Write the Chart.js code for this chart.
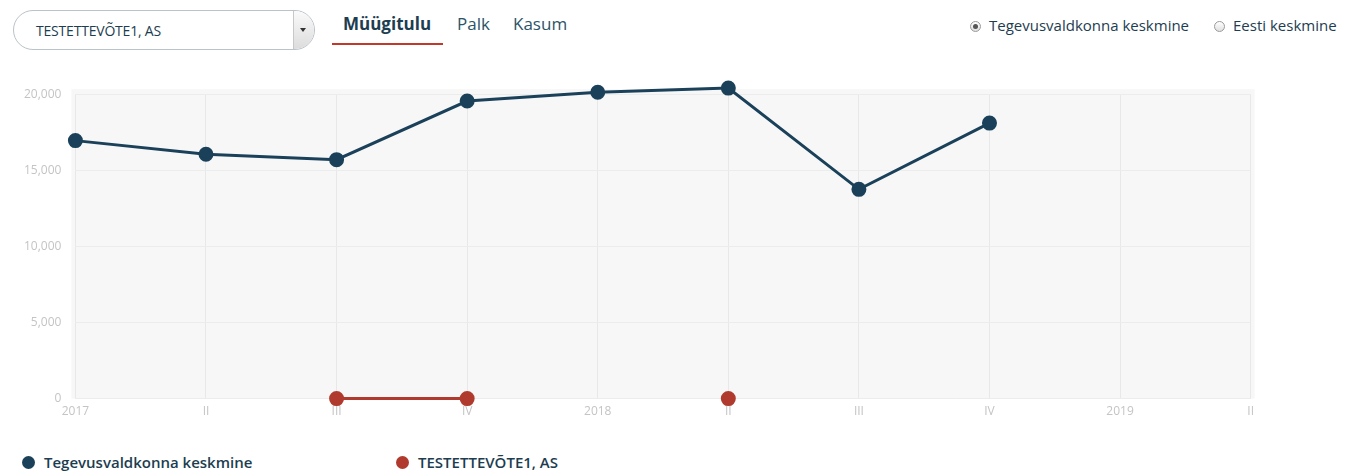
<!DOCTYPE html>
<html lang="et">
<head>
<meta charset="utf-8">
<title>Müügitulu</title>
<script src="https://cdn.jsdelivr.net/npm/chart.js@4.4.1/dist/chart.umd.min.js"></script>
<style>
  html, body { margin: 0; padding: 0; background: #fff; }
  body { width: 1346px; height: 472px; position: relative; overflow: hidden; font-family: "Open Sans", sans-serif; }
  .select {
    position: absolute; left: 13px; top: 10px; width: 302px; height: 40px;
    border: 1px solid #b9c3c9; border-radius: 20px; box-sizing: border-box; overflow: hidden;
  }
  .select span { position: absolute; left: 22px; top: 10px; font-size: 14px; color: #1d3d50; letter-spacing: -0.2px; }
  .select .arrow {
    position: absolute; right: 0; top: 0; width: 20px; height: 38px;
    border-left: 1px solid #c8c8c8; background: linear-gradient(#fafafa, #dcdcdc);
  }
  .select .arrow:after {
    content: ""; position: absolute; left: 6px; top: 17px;
    border-left: 3px solid transparent; border-right: 3px solid transparent; border-top: 4px solid #333;
  }
  .tabs { position: absolute; left: 332px; top: 12px; font-size: 17px; color: #2b5468; }
  .tabs a { position: absolute; white-space: nowrap; }
  .tabs .active { font-weight: 700; color: #1d3d50; left: 11px; }
  .tabs .line { position: absolute; left: 0; top: 31px; width: 111px; height: 2px; background: #c0392b; }
  .radios { position: absolute; top: 15px; font-size: 15px; color: #1d3d50; }
  .radio { position: absolute; white-space: nowrap; }
  .radio i {
    position: absolute; left: 0; top: 6px; width: 9px; height: 9px; border-radius: 50%;
    border: 1px solid #9a9a9a; background: linear-gradient(#fff, #e0e0e0);
  }
  .radio i.on:after { content: ""; position: absolute; left: 2px; top: 2px; width: 5px; height: 5px; border-radius: 50%; background: #555; }
  .radio span { position: absolute; left: 19px; top: 0; }
  #wrap { position: absolute; left: 0; top: 73px; width: 1260px; height: 352px; }
  .legend { position: absolute; top: 452px; font-size: 15px; font-weight: 600; color: #1d3d50; white-space: nowrap; }
  .legend i { display: inline-block; width: 13px; height: 13px; border-radius: 50%; vertical-align: -1px; margin-right: 9px; }
</style>
</head>
<body>
<div class="select"><span>TESTETTEVÕTE1, AS</span><div class="arrow"></div></div>
<div class="tabs">
  <a class="active">Müügitulu</a>
  <a style="left:125px">Palk</a>
  <a style="left:181px">Kasum</a>
  <div class="line"></div>
</div>
<div class="radios">
  <div class="radio" style="left:970px"><i class="on"></i><span>Tegevusvaldkonna keskmine</span></div>
  <div class="radio" style="left:1214px"><i></i><span>Eesti keskmine</span></div>
</div>
<div id="wrap"><canvas id="chart"></canvas></div>
<div class="legend" style="left:22px"><i style="background:#1a4159"></i>Tegevusvaldkonna keskmine</div>
<div class="legend" style="left:396px"><i style="background:#b03a2e"></i>TESTETTEVÕTE1, AS</div>

<script>
  const labels = ['2017', 'II', 'III', 'IV', '2018', 'II', 'III', 'IV', '2019', 'II'];
  const sectorAvg = [16950, 16050, 15700, 19550, 20130, 20400, 13750, 18100, null, null];
  const company = [null, null, 0, 0, null, 0, null, null, null, null];
  const yTicks = [0, 5000, 10000, 15000, 20000];

  // light grey plot background, a bit wider than the chart area
  const plotBg = {
    id: 'plotBg',
    beforeDraw(chart) {
      const a = chart.chartArea;
      const ctx = chart.ctx;
      ctx.save();
      ctx.fillStyle = '#f7f7f7';
      ctx.fillRect(a.left - 4, a.top - 5, a.right - a.left + 8, a.bottom - a.top + 5);
      ctx.restore();
    }
  };

  new Chart(document.getElementById('chart'), {
    type: 'line',
    data: {
      labels: labels,
      datasets: [{
        label: 'Tegevusvaldkonna keskmine',
        data: sectorAvg,
        borderColor: '#1a4159',
        backgroundColor: '#1a4159',
        borderWidth: 3,
        pointRadius: 6,
        pointHoverRadius: 6,
        tension: 0,
        clip: false
      }, {
        label: 'TESTETTEVÕTE1, AS',
        data: company,
        borderColor: '#b03a2e',
        backgroundColor: '#b03a2e',
        borderWidth: 3,
        pointRadius: 6,
        pointHoverRadius: 6,
        tension: 0,
        clip: false
      }]
    },
    options: {
      responsive: true,
      maintainAspectRatio: false,
      animation: false,
      layout: { padding: { top: 6, left: 10, right: 0, bottom: 0 } },
      scales: {
        x: {
          offset: false,
          grid: { color: '#e8e8e8', drawTicks: false },
          border: { display: false },
          ticks: { color: '#c4c4c4', font: { family: 'Open Sans', size: 12 }, padding: 6, maxRotation: 0, autoSkip: false }
        },
        y: {
          min: 0,
          max: 20000,
          afterBuildTicks(axis) { axis.ticks = yTicks.map(v => ({ value: v })); },
          grid: { color: '#ececec', drawTicks: false },
          border: { display: false },
          ticks: {
            color: '#c4c4c4', font: { family: 'Open Sans', size: 12 }, padding: 14,
            callback: v => v.toLocaleString('en-US')
          }
        }
      },
      plugins: {
        legend: { display: false },
        tooltip: { enabled: false }
      }
    },
    plugins: [plotBg]
  });
</script>
</body>
</html>
